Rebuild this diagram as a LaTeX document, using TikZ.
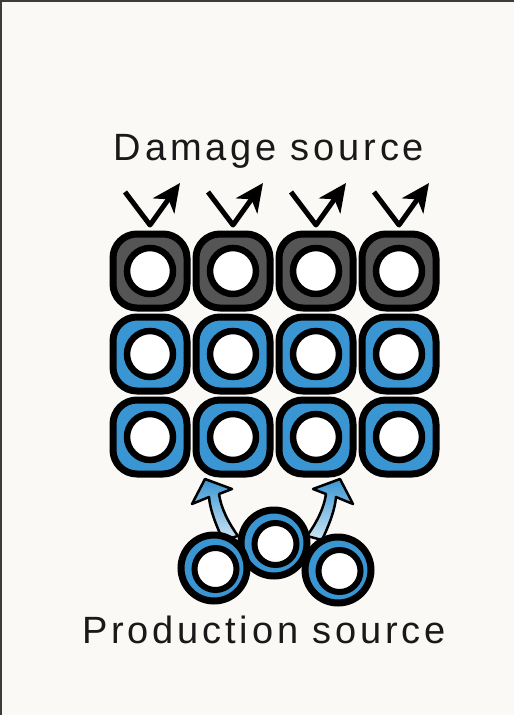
\documentclass[tikz,border=0pt]{standalone}
\usepackage{fontspec}
\newfontfamily\labelfont[LetterSpace=10]{Liberation Sans}
\usetikzlibrary{arrows.meta,positioning,calc}
\definecolor{paper}{RGB}{250,249,245}
\definecolor{cellblue}{RGB}{58,150,210}
\definecolor{cellgray}{RGB}{85,85,85}
\definecolor{frame}{RGB}{60,60,60}

\begin{document}
\begin{tikzpicture}[
    x=1pt, y=-1pt,
    cell/.style={rectangle, draw=black, line width=7pt, rounded corners=24pt, minimum size=74pt, inner sep=0pt, outer sep=0pt,
        path picture={\draw[line width=6.5pt, fill=white] (path picture bounding box.center) circle (23pt);}},
    damaged/.style={cell, fill=cellgray},
    healthy/.style={cell, fill=cellblue},
    producer/.style={circle, draw=black, fill=cellblue, line width=7pt, minimum size=66pt, inner sep=0pt, outer sep=0pt,
        path picture={\draw[line width=6pt, fill=white] ([shift={(1.5pt,-1pt)}]path picture bounding box.center) circle (21pt);}},
    damage/.style={line width=5pt, line join=round, -{Stealth[length=28pt, width=26pt, inset=8pt]}},
    feed/.style={draw=black, line width=2.5pt, line join=round, top color=cellblue, bottom color=cellblue!25!white},
    label/.style={font=\labelfont\fontsize{38}{42}\selectfont, text=black!90, inner sep=0pt, anchor=base}
]

% Page and frame
\fill[paper] (0,0) rectangle (514,715);
\useasboundingbox (0,0) rectangle (514,715);
\draw[frame, line width=2pt] (1,715) -- (1,1) -- (514,1);

% Titles
\node[label] (dmgTitle) at (269,160) {Damage source};
\node[label] (prodTitle) at (264,643) {Production source};

% Top row (damaged)
\node[damaged] (dmgA) at (150,271) {};
\node[damaged, right=9pt of dmgA] (dmgB) {};
\node[damaged, right=9pt of dmgB] (dmgC) {};
\node[damaged, right=9pt of dmgC] (dmgD) {};

% Middle row
\node[healthy, below=9pt of dmgA] (midA) {};
\node[healthy, below=9pt of dmgB] (midB) {};
\node[healthy, below=9pt of dmgC] (midC) {};
\node[healthy, below=9pt of dmgD] (midD) {};

% Bottom row
\node[healthy, below=9pt of midA] (lowA) {};
\node[healthy, below=9pt of midB] (lowB) {};
\node[healthy, below=9pt of midC] (lowC) {};
\node[healthy, below=9pt of midD] (lowD) {};

% Damage leaving the top row
\draw[damage] ($(dmgA.north)+(-25,-42)$) -- ($(dmgA.north)+(0,-9)$) -- ($(dmgA.north)+(30,-51)$);
\draw[damage] ($(dmgB.north)+(-25,-42)$) -- ($(dmgB.north)+(0,-9)$) -- ($(dmgB.north)+(30,-51)$);
\draw[damage] ($(dmgC.north)+(-25,-42)$) -- ($(dmgC.north)+(0,-9)$) -- ($(dmgC.north)+(30,-51)$);
\draw[damage] ($(dmgD.north)+(-25,-42)$) -- ($(dmgD.north)+(0,-9)$) -- ($(dmgD.north)+(30,-51)$);

% Supply arrows (behind the producers)
\path[feed] (223,540) .. controls (216,525) and (210,510) .. (209,497) -- (192,504) -- (205,479)
    -- (232,489) -- (219,494) .. controls (221,508) and (228,522) .. (238,536) -- cycle;
\path[feed] (322,540) .. controls (329,525) and (335,510) .. (336,497) -- (353,504) -- (340,479)
    -- (313,489) -- (326,494) .. controls (324,508) and (317,522) .. (307,536) -- cycle;

% Production source
\node[producer] (prodB) at (274,543) {};
\node[producer] (prodA) at (214,568) {};
\node[producer] (prodC) at (338,570) {};

\end{tikzpicture}
\end{document}
